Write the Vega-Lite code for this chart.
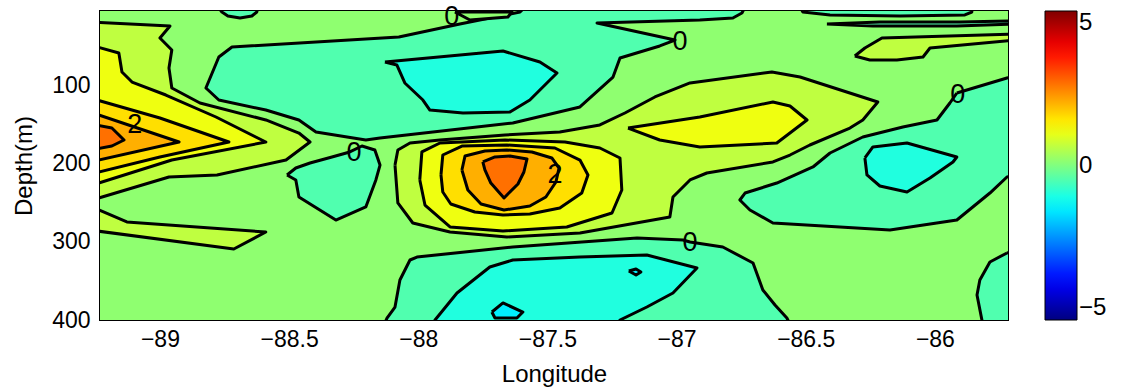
{
"$schema": "https://vega.github.io/schema/vega-lite/v6.json",
"width": 908, "height": 309,
"autosize": {"type": "none"},
"padding": {"left": 100, "top": 11, "right": 133, "bottom": 69},
"background": "white",
"datasets": {
"bands": [
{"p":"p00","v":0.156},{"p":"p01","v":-0.469},{"p":"p02","v":-0.469},{"p":"p03","v":-0.469},{"p":"p04","v":-0.469},{"p":"p05","v":-0.469},{"p":"p06","v":-0.469},{"p":"p07","v":-0.469},{"p":"p08","v":-0.469},
{"p":"p09","v":-0.9375},{"p":"p10","v":-0.9375},{"p":"p11","v":-0.9375},{"p":"p12","v":-1.41},{"p":"p13","v":-1.41},{"p":"p14","v":0.156},
{"p":"p15","v":0.625},{"p":"p16","v":0.625},{"p":"p17","v":0.625},{"p":"p18","v":0.625},
{"p":"p19","v":1.094},{"p":"p20","v":1.094},{"p":"p21","v":1.094},
{"p":"p22","v":1.5625},{"p":"p23","v":1.5625},{"p":"p24","v":2.031},{"p":"p25","v":2.031},{"p":"p26","v":2.656},{"p":"p27","v":2.656}
],
"labels": [
{"x":-87.87,"y":12.7,"t":"0"},{"x":-86.987,"y":44.6,"t":"0"},{"x":-88.249,"y":186.5,"t":"0"},{"x":-85.911,"y":112.4,"t":"0"},{"x":-86.948,"y":301.6,"t":"0"},{"x":-89.097,"y":150.7,"t":"2"},{"x":-87.471,"y":214.6,"t":"2"}
],
"verts": [
{"p":"p00","x":-89.3,"y":0},{"p":"p00","x":-85.65,"y":0},{"p":"p00","x":-85.65,"y":410},{"p":"p00","x":-89.3,"y":410},
{"p":"p01","x":-87.587,"y":0},{"p":"p01","x":-86.735,"y":0},{"p":"p01","x":-86.747,"y":7.6},{"p":"p01","x":-86.782,"y":13.9},{"p":"p01","x":-86.910,"y":16.5},{"p":"p01","x":-87.308,"y":20.3},{"p":"p01","x":-87.006,"y":42.1},{"p":"p01","x":-87.065,"y":49.7},{"p":"p01","x":-87.219,"y":65.1},{"p":"p01","x":-87.246,"y":89.4},{"p":"p01","x":-87.374,"y":127.7},{"p":"p01","x":-87.634,"y":148.2},{"p":"p01","x":-88.148,"y":167.3},{"p":"p01","x":-88.203,"y":169.9},{"p":"p01","x":-88.396,"y":159.7},{"p":"p01","x":-88.462,"y":144.3},{"p":"p01","x":-88.590,"y":131.6},{"p":"p01","x":-88.772,"y":118.8},{"p":"p01","x":-88.822,"y":103.4},{"p":"p01","x":-88.772,"y":63.8},{"p":"p01","x":-88.721,"y":51},{"p":"p01","x":-88.075,"y":38.2},{"p":"p01","x":-87.839,"y":21.6},{"p":"p01","x":-87.606,"y":6.3},{"p":"p01","x":-87.587,"y":0},
{"p":"p02","x":-88.508,"y":214.6},{"p":"p02","x":-88.474,"y":205.7},{"p":"p02","x":-88.419,"y":199.3},{"p":"p02","x":-88.334,"y":191.6},{"p":"p02","x":-88.265,"y":185.2},{"p":"p02","x":-88.218,"y":177.6},{"p":"p02","x":-88.168,"y":182.7},{"p":"p02","x":-88.148,"y":201.9},{"p":"p02","x":-88.164,"y":221},{"p":"p02","x":-88.203,"y":255.5},{"p":"p02","x":-88.319,"y":272.2},{"p":"p02","x":-88.462,"y":242.8},{"p":"p02","x":-88.474,"y":221},{"p":"p02","x":-88.508,"y":214.6},
{"p":"p03","x":-88.137,"y":410},{"p":"p03","x":-88.121,"y":397.5},{"p":"p03","x":-88.090,"y":383.4},{"p":"p03","x":-88.071,"y":348.9},{"p":"p03","x":-88.032,"y":323.3},{"p":"p03","x":-88.005,"y":319.5},{"p":"p03","x":-87.634,"y":306.7},{"p":"p03","x":-87.153,"y":295.2},{"p":"p03","x":-86.975,"y":297.7},{"p":"p03","x":-86.948,"y":300.3},{"p":"p03","x":-86.821,"y":306.7},{"p":"p03","x":-86.704,"y":327.1},{"p":"p03","x":-86.666,"y":361.6},{"p":"p03","x":-86.619,"y":380.8},{"p":"p03","x":-86.573,"y":397.5},{"p":"p03","x":-86.554,"y":410},
{"p":"p04","x":-85.915,"y":109.8},{"p":"p04","x":-85.942,"y":122.6},{"p":"p04","x":-85.992,"y":144.3},{"p":"p04","x":-86.124,"y":153.3},{"p":"p04","x":-86.279,"y":166.1},{"p":"p04","x":-86.406,"y":186.5},{"p":"p04","x":-86.472,"y":204.4},{"p":"p04","x":-86.612,"y":224.9},{"p":"p04","x":-86.735,"y":237.7},{"p":"p04","x":-86.755,"y":246.6},{"p":"p04","x":-86.716,"y":259.4},{"p":"p04","x":-86.627,"y":276},{"p":"p04","x":-86.174,"y":285},{"p":"p04","x":-85.915,"y":272.2},{"p":"p04","x":-85.787,"y":237.7},{"p":"p04","x":-85.721,"y":217.2},{"p":"p04","x":-85.671,"y":214.6},{"p":"p04","x":-85.671,"y":86.8},{"p":"p04","x":-85.721,"y":90.6},{"p":"p04","x":-85.915,"y":109.8},
{"p":"p05","x":-85.721,"y":314.3},{"p":"p05","x":-85.787,"y":325.8},{"p":"p05","x":-85.826,"y":348.9},{"p":"p05","x":-85.837,"y":368},{"p":"p05","x":-85.818,"y":400},{"p":"p05","x":-85.806,"y":410},{"p":"p05","x":-85.671,"y":410},{"p":"p05","x":-85.671,"y":310.5},{"p":"p05","x":-85.721,"y":314.3},
{"p":"p06","x":-88.775,"y":0},{"p":"p06","x":-88.760,"y":6.3},{"p":"p06","x":-88.737,"y":11.4},{"p":"p06","x":-88.690,"y":13.9},{"p":"p06","x":-88.644,"y":11.4},{"p":"p06","x":-88.625,"y":6.3},{"p":"p06","x":-88.621,"y":0},
{"p":"p07","x":-86.522,"y":0},{"p":"p07","x":-86.511,"y":6.3},{"p":"p07","x":-86.406,"y":10.1},{"p":"p07","x":-86.135,"y":11.4},{"p":"p07","x":-85.884,"y":10.1},{"p":"p07","x":-85.857,"y":6.3},{"p":"p07","x":-85.857,"y":0},
{"p":"p08","x":-86.418,"y":21.6},{"p":"p08","x":-86.240,"y":24.2},{"p":"p08","x":-85.915,"y":24.2},{"p":"p08","x":-85.702,"y":21.6},{"p":"p08","x":-85.702,"y":17.8},{"p":"p08","x":-85.903,"y":19.1},{"p":"p08","x":-86.213,"y":19.1},{"p":"p08","x":-86.418,"y":21.6},
{"p":"p09","x":-88.129,"y":70.2},{"p":"p09","x":-88.083,"y":74},{"p":"p09","x":-88.052,"y":97},{"p":"p09","x":-87.982,"y":118.8},{"p":"p09","x":-87.955,"y":131.6},{"p":"p09","x":-87.827,"y":135.4},{"p":"p09","x":-87.645,"y":134.1},{"p":"p09","x":-87.568,"y":118.8},{"p":"p09","x":-87.463,"y":84.3},{"p":"p09","x":-87.529,"y":70.2},{"p":"p09","x":-87.672,"y":56.1},{"p":"p09","x":-88.129,"y":70.2},
{"p":"p10","x":-86.271,"y":192.9},{"p":"p10","x":-86.240,"y":178.8},{"p":"p10","x":-86.108,"y":173.7},{"p":"p10","x":-85.915,"y":191.6},{"p":"p10","x":-85.930,"y":198},{"p":"p10","x":-86.019,"y":218.5},{"p":"p10","x":-86.108,"y":236.4},{"p":"p10","x":-86.213,"y":228.7},{"p":"p10","x":-86.263,"y":214.6},{"p":"p10","x":-86.271,"y":192.9},
{"p":"p11","x":-87.955,"y":410},{"p":"p11","x":-87.935,"y":400},{"p":"p11","x":-87.850,"y":365.5},{"p":"p11","x":-87.723,"y":332.2},{"p":"p11","x":-87.634,"y":323.3},{"p":"p11","x":-87.374,"y":319.5},{"p":"p11","x":-87.115,"y":316.9},{"p":"p11","x":-86.921,"y":333.5},{"p":"p11","x":-87.014,"y":365.5},{"p":"p11","x":-87.115,"y":383.4},{"p":"p11","x":-87.219,"y":400},{"p":"p11","x":-87.239,"y":410},
{"p":"p12","x":-87.715,"y":389.8},{"p":"p12","x":-87.672,"y":378.2},{"p":"p12","x":-87.595,"y":389.8},{"p":"p12","x":-87.618,"y":397.5},{"p":"p12","x":-87.703,"y":397.5},{"p":"p12","x":-87.715,"y":389.8},
{"p":"p13","x":-87.185,"y":337.4},{"p":"p13","x":-87.157,"y":334.8},{"p":"p13","x":-87.138,"y":338.6},{"p":"p13","x":-87.157,"y":342.5},{"p":"p13","x":-87.185,"y":337.4},
{"p":"p14","x":-87.858,"y":6.3},{"p":"p14","x":-87.800,"y":16.5},{"p":"p14","x":-87.653,"y":12.7},{"p":"p14","x":-87.637,"y":6.3},{"p":"p14","x":-87.858,"y":6.3},
{"p":"p15","x":-89.271,"y":19.1},{"p":"p15","x":-88.961,"y":24.2},{"p":"p15","x":-89.0,"y":39.5},{"p":"p15","x":-88.954,"y":54.9},{"p":"p15","x":-88.965,"y":77.9},{"p":"p15","x":-88.954,"y":103.4},{"p":"p15","x":-88.845,"y":122.6},{"p":"p15","x":-88.590,"y":144.3},{"p":"p15","x":-88.462,"y":161},{"p":"p15","x":-88.419,"y":172.5},{"p":"p15","x":-88.512,"y":195.5},{"p":"p15","x":-88.779,"y":214.6},{"p":"p15","x":-88.965,"y":217.2},{"p":"p15","x":-89.236,"y":244},{"p":"p15","x":-89.271,"y":244},
{"p":"p16","x":-89.271,"y":254.3},{"p":"p16","x":-89.128,"y":274.7},{"p":"p16","x":-88.590,"y":287.5},{"p":"p16","x":-88.714,"y":309.2},{"p":"p16","x":-89.271,"y":285},
{"p":"p17","x":-88.090,"y":201.9},{"p":"p17","x":-88.079,"y":182.7},{"p":"p17","x":-88.032,"y":173.7},{"p":"p17","x":-87.916,"y":169.9},{"p":"p17","x":-87.664,"y":163.5},{"p":"p17","x":-87.452,"y":159.7},{"p":"p17","x":-87.297,"y":150.7},{"p":"p17","x":-87.200,"y":135.4},{"p":"p17","x":-87.084,"y":114.9},{"p":"p17","x":-86.948,"y":97},{"p":"p17","x":-86.631,"y":83},{"p":"p17","x":-86.522,"y":89.4},{"p":"p17","x":-86.221,"y":121.3},{"p":"p17","x":-86.279,"y":144.3},{"p":"p17","x":-86.329,"y":154.6},{"p":"p17","x":-86.484,"y":176.3},{"p":"p17","x":-86.561,"y":189.1},{"p":"p17","x":-86.627,"y":198},{"p":"p17","x":-86.883,"y":212.1},{"p":"p17","x":-86.948,"y":221},{"p":"p17","x":-87.014,"y":242.8},{"p":"p17","x":-87.026,"y":268.3},{"p":"p17","x":-87.374,"y":288.8},{"p":"p17","x":-87.657,"y":293.9},{"p":"p17","x":-87.877,"y":287.5},{"p":"p17","x":-88.021,"y":276},{"p":"p17","x":-88.079,"y":250.4},{"p":"p17","x":-88.090,"y":201.9},
{"p":"p18","x":-86.310,"y":62.5},{"p":"p18","x":-86.271,"y":52.3},{"p":"p18","x":-86.205,"y":39.5},{"p":"p18","x":-85.690,"y":34.4},{"p":"p18","x":-85.690,"y":42.1},{"p":"p18","x":-86.019,"y":52.3},{"p":"p18","x":-86.046,"y":63.8},{"p":"p18","x":-86.147,"y":67.6},{"p":"p18","x":-86.252,"y":67.6},{"p":"p18","x":-86.310,"y":62.5},
{"p":"p19","x":-89.271,"y":48.5},{"p":"p19","x":-89.159,"y":58.7},{"p":"p19","x":-89.147,"y":83},{"p":"p19","x":-89.108,"y":95.8},{"p":"p19","x":-88.977,"y":112.4},{"p":"p19","x":-88.783,"y":140.5},{"p":"p19","x":-88.590,"y":172.5},{"p":"p19","x":-88.954,"y":195.5},{"p":"p19","x":-89.236,"y":224.9},{"p":"p19","x":-89.271,"y":224.9},
{"p":"p20","x":-87.994,"y":221},{"p":"p20","x":-87.986,"y":185.2},{"p":"p20","x":-87.916,"y":173.7},{"p":"p20","x":-87.664,"y":169.9},{"p":"p20","x":-87.432,"y":172.5},{"p":"p20","x":-87.297,"y":180.1},{"p":"p20","x":-87.219,"y":192.9},{"p":"p20","x":-87.212,"y":233.8},{"p":"p20","x":-87.250,"y":263.2},{"p":"p20","x":-87.425,"y":281.1},{"p":"p20","x":-87.672,"y":286.3},{"p":"p20","x":-87.877,"y":281.1},{"p":"p20","x":-87.974,"y":253},{"p":"p20","x":-87.994,"y":221},
{"p":"p21","x":-87.188,"y":154.6},{"p":"p21","x":-86.910,"y":140.5},{"p":"p21","x":-86.627,"y":121.3},{"p":"p21","x":-86.561,"y":126.4},{"p":"p21","x":-86.495,"y":144.3},{"p":"p21","x":-86.612,"y":173.7},{"p":"p21","x":-86.910,"y":178.8},{"p":"p21","x":-87.065,"y":169.9},{"p":"p21","x":-87.188,"y":154.6},
{"p":"p22","x":-89.271,"y":116.2},{"p":"p22","x":-89.0,"y":141.8},{"p":"p22","x":-88.733,"y":172.5},{"p":"p22","x":-89.0,"y":191.6},{"p":"p22","x":-89.236,"y":210.8},{"p":"p22","x":-89.271,"y":210.8},
{"p":"p23","x":-87.912,"y":214.6},{"p":"p23","x":-87.905,"y":189.1},{"p":"p23","x":-87.831,"y":177.6},{"p":"p23","x":-87.657,"y":176.3},{"p":"p23","x":-87.471,"y":180.1},{"p":"p23","x":-87.374,"y":195.5},{"p":"p23","x":-87.343,"y":214.6},{"p":"p23","x":-87.367,"y":237.7},{"p":"p23","x":-87.452,"y":256.8},{"p":"p23","x":-87.568,"y":264.5},{"p":"p23","x":-87.672,"y":265.8},{"p":"p23","x":-87.781,"y":261.9},{"p":"p23","x":-87.874,"y":251.7},{"p":"p23","x":-87.905,"y":236.4},{"p":"p23","x":-87.912,"y":214.6},
{"p":"p24","x":-89.271,"y":134.1},{"p":"p24","x":-88.926,"y":172.5},{"p":"p24","x":-89.236,"y":195.5},{"p":"p24","x":-89.271,"y":195.5},
{"p":"p25","x":-87.831,"y":208.2},{"p":"p25","x":-87.819,"y":190.4},{"p":"p25","x":-87.742,"y":184},{"p":"p25","x":-87.657,"y":182.7},{"p":"p25","x":-87.560,"y":185.2},{"p":"p25","x":-87.483,"y":192.9},{"p":"p25","x":-87.455,"y":205.7},{"p":"p25","x":-87.467,"y":223.6},{"p":"p25","x":-87.506,"y":242.8},{"p":"p25","x":-87.568,"y":254.3},{"p":"p25","x":-87.668,"y":259.4},{"p":"p25","x":-87.757,"y":251.7},{"p":"p25","x":-87.808,"y":233.8},{"p":"p25","x":-87.831,"y":208.2},
{"p":"p26","x":-89.271,"y":149.4},{"p":"p26","x":-89.186,"y":154.6},{"p":"p26","x":-89.139,"y":169.9},{"p":"p26","x":-89.186,"y":177.6},{"p":"p26","x":-89.271,"y":182.7},
{"p":"p27","x":-87.750,"y":198},{"p":"p27","x":-87.703,"y":191.6},{"p":"p27","x":-87.645,"y":190.4},{"p":"p27","x":-87.579,"y":194.2},{"p":"p27","x":-87.591,"y":210.8},{"p":"p27","x":-87.614,"y":226.1},{"p":"p27","x":-87.668,"y":244},{"p":"p27","x":-87.719,"y":224.9},{"p":"p27","x":-87.742,"y":208.2},{"p":"p27","x":-87.750,"y":198}
]
},
"layer": [
{
"data": {"name": "verts"},
"transform": [{"lookup": "p", "from": {"data": {"name": "bands"}, "key": "p", "fields": ["v"]}}],
"mark": {"type": "line", "filled": true, "stroke": "black", "strokeWidth": 3, "strokeJoin": "round", "clip": true},
"encoding": {
"x": {"field": "x", "type": "quantitative", "scale": {"domain": [-89.232, -85.717], "nice": false, "zero": false}, "axis": {"title": "Longitude", "values": [-89, -88.5, -88, -87.5, -87, -86.5, -86], "format": "~g"}},
"y": {"field": "y", "type": "quantitative", "scale": {"domain": [5, 400], "reverse": true, "nice": false, "zero": false}, "axis": {"title": "Depth(m)", "values": [100, 200, 300, 400]}},
"color": {"field": "v", "type": "quantitative", "scale": {"domain": [-5, -3.75, -1.25, 1.25, 3.75, 5], "range": ["#000080", "#0000ff", "#00ffff", "#ffff00", "#ff0000", "#800000"], "interpolate": "rgb"}, "legend": {"values": [-5, 0, 5], "title": null, "format": "~g"}},
"detail": {"field": "p", "type": "nominal"},
"order": {"value": null}
}
},
{
"data": {"name": "labels"},
"mark": {"type": "text", "fontSize": 27, "font": "Liberation Sans", "color": "black", "baseline": "middle", "align": "center"},
"encoding": {
"x": {"field": "x", "type": "quantitative"},
"y": {"field": "y", "type": "quantitative"},
"text": {"field": "t"}
}
}
],
"config": {
"font": "Liberation Sans",
"view": {"stroke": "black", "strokeWidth": 2},
"axis": {"domain": false, "ticks": false, "grid": false, "labelFontSize": 23, "labelColor": "black", "labelFont": "Liberation Sans", "titleFontSize": 24, "titleFontWeight": "normal", "titleColor": "black", "titleFont": "Liberation Sans"},
"axisX": {"labelPadding": 8, "titlePadding": 11},
"axisY": {"labelPadding": 10, "titlePadding": 15},
"legend": {"orient": "right", "offset": 37, "padding": 0, "gradientLength": 309, "gradientVerticalMaxLength": 400, "gradientThickness": 32, "gradientStrokeColor": "black", "gradientStrokeWidth": 1, "labelFontSize": 24, "labelColor": "black", "labelFont": "Liberation Sans", "labelOffset": 10, "labelBaseline": "middle"}
}
}
